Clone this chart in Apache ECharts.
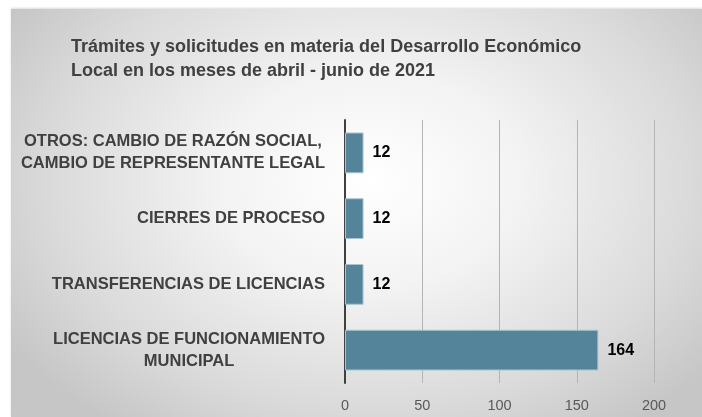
<!DOCTYPE html>
<html>
<head>
<meta charset="utf-8">
<script src="https://cdn.jsdelivr.net/npm/echarts@6/dist/echarts.min.js"></script>
<style>
html,body{margin:0;padding:0;background:#ffffff;}
#bg{position:absolute;left:11px;top:9px;width:691px;height:408px;
background:radial-gradient(ellipse 62% 75% at 52% 42%, #ffffff 0%, #f3f3f3 35%, #dadada 75%, #c6c6c6 100%);
box-shadow:0 -1px 2px rgba(0,0,0,0.15);}
#chart{position:absolute;left:0;top:0;width:702px;height:417px;}
</style>
</head>
<body>
<div id="bg"></div>
<div id="chart"></div>
<script>
const titleLines = ["Trámites y solicitudes en materia del Desarrollo Económico", "Local en los meses de abril - junio de 2021"];
const categories = [
  "LICENCIAS DE FUNCIONAMIENTO\nMUNICIPAL",
  "TRANSFERENCIAS DE LICENCIAS",
  "CIERRES DE PROCESO",
  "OTROS: CAMBIO DE RAZÓN SOCIAL,\nCAMBIO DE REPRESENTANTE LEGAL"
];
const values = [164, 12, 12, 12];
const xTicks = [0, 50, 100, 150, 200];

const FONT = '"Liberation Sans", Arial, sans-serif';
const chart = echarts.init(document.getElementById('chart'), null, {renderer: 'canvas'});
chart.setOption({
  backgroundColor: 'transparent',
  animation: false,
  title: {
    text: titleLines.join('\n'),
    left: 66, top: 30,
    textStyle: {fontFamily: FONT, fontWeight: 'bold', fontSize: 18, lineHeight: 24, color: '#404040'}
  },
  grid: {left: 345, top: 120, right: 48, bottom: 34, containLabel: false, outerBoundsMode: 'none'},
  xAxis: {
    type: 'value', min: xTicks[0], max: xTicks[xTicks.length-1], interval: 50,
    axisLine: {show: false}, axisTick: {show: false},
    splitLine: {show: true, lineStyle: {color: '#b4b4b4', width: 1}},
    axisLabel: {fontFamily: FONT, fontSize: 14.5, color: '#595959', margin: 15}
  },
  yAxis: {
    type: 'category', data: categories,
    axisLine: {show: true, lineStyle: {color: '#404040', width: 2}},
    axisTick: {show: false},
    axisLabel: {
      margin: 20, align: 'right',
      formatter: v => v.split('\n').map(s => '{a|' + s + '}').join('\n'),
      rich: {a: {fontFamily: FONT, fontWeight: 'bold', fontSize: 16.5, lineHeight: 22, color: '#404040', align: 'center'}}
    }
  },
  series: [{
    type: 'bar', data: values, barCategoryGap: '38%',
    itemStyle: {color: '#548499', borderColor: '#a9c4d1', borderWidth: 1},
    label: {show: true, position: 'right', distance: 9, fontFamily: FONT, fontWeight: 'bold', fontSize: 16, color: '#000000'}
  }]
});
</script>
</body>
</html>
